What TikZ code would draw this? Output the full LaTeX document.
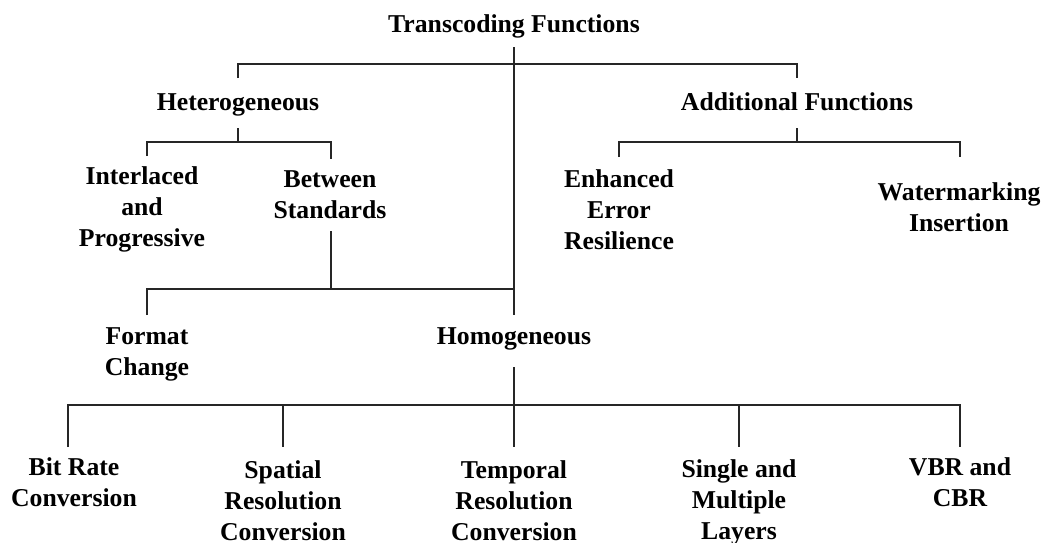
\documentclass[tikz,border=0pt]{standalone}
\usepackage{fontspec}
\setmainfont{Liberation Serif}
\usetikzlibrary{calc}
\tikzset{
  % the base anchor of a multi-line label sits on its last line
  lbl/.style={anchor=base, align=center, inner sep=0pt,
    font=\fontsize{12.85}{15.5}\selectfont\bfseries},
  link/.style={draw=black!85, line width=0.6pt}
}
\begin{document}
\begin{tikzpicture}[x=0.5pt, y=-0.5pt]
  \useasboundingbox (0,0) rectangle (1044,542);

  % top level
  \node[lbl] (tf)  at (514,32)  {Transcoding Functions};
  \node[lbl] (het) at (238,110) {Heterogeneous};
  \node[lbl] (add) at (797,110) {Additional Functions};

  % heterogeneous branch
  \node[lbl] (ip) at (142,246) {Interlaced\\and\\Progressive};
  \node[lbl] (bs) at (330,218) {Between\\Standards};
  \node[lbl] (fc) at (147,375) {Format\\Change};
  \node[lbl] (hom) at (514,344) {Homogeneous};

  % additional functions branch
  \node[lbl] (ee) at (619,249) {Enhanced\\Error\\Resilience};
  \node[lbl] (wm) at (959,231) {Watermarking\\Insertion};

  % homogeneous branch
  \node[lbl] (br) at (74,506)  {Bit Rate\\Conversion};
  \node[lbl] (sr) at (283,540) {Spatial\\Resolution\\Conversion};
  \node[lbl] (tr) at (514,540) {Temporal\\Resolution\\Conversion};
  \node[lbl] (sm) at (739,539) {Single and\\Multiple\\Layers};
  \node[lbl] (vc) at (960,506) {VBR and\\CBR};

  % trunk from the root down to Homogeneous
  \draw[link] ($(tf.base)+(0,15)$) -- ($(hom.base)+(0,-29)$);
  % root bar
  \draw[link] ($(het.base)+(0,-32)$) |- ($(add.base)+(0,-46)$) -- ($(add.base)+(0,-32)$);

  % heterogeneous children
  \draw[link] ($(het.base)+(0,18)$) -- ($(het.base)+(0,32)$);
  \draw[link] ($(ip.base)+(5,-90)$) |- ($(bs.base)+(1,-76)$) -- ($(bs.base)+(1,-59)$);

  % between standards to format change
  \draw[link] ($(bs.base)+(1,13)$) -- ($(bs.base)+(1,71)$);
  \draw[link] ($(fc.base)+(0,-60)$) |- ($(hom.base)+(0,-55)$);

  % additional functions children
  \draw[link] ($(add.base)+(0,18)$) -- ($(add.base)+(0,32)$);
  \draw[link] ($(ee.base)+(0,-92)$) |- ($(wm.base)+(1,-89)$) -- ($(wm.base)+(1,-74)$);

  % homogeneous children
  \draw[link] ($(hom.base)+(0,23)$) -- ($(tr.base)+(0,-93)$);
  \draw[link] ($(br.base)+(-6,-59)$) |- ($(vc.base)+(0,-101)$) -- ($(vc.base)+(0,-59)$);
  \draw[link] ($(sr.base)+(0,-135)$) -- ($(sr.base)+(0,-93)$);
  \draw[link] ($(sm.base)+(0,-134)$) -- ($(sm.base)+(0,-92)$);
\end{tikzpicture}
\end{document}
